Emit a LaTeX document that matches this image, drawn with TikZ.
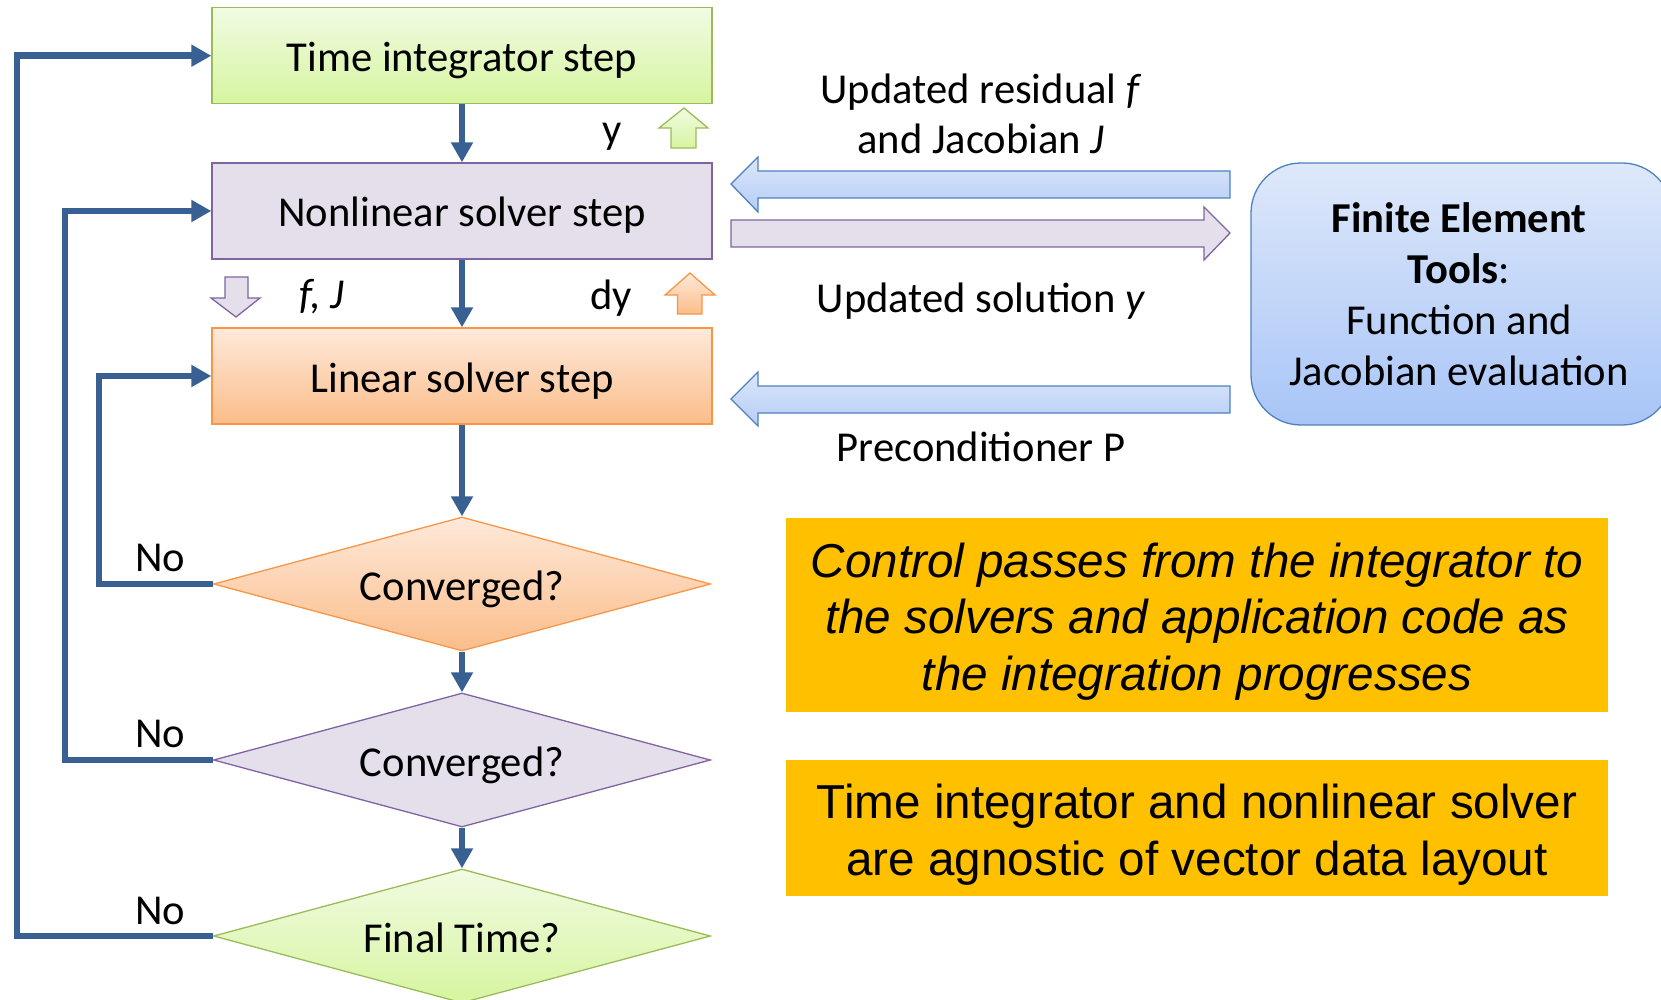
\documentclass[tikz,border=0pt]{standalone}
\usepackage{fontspec}
\setmainfont{Carlito}
\newfontfamily\arialf{Liberation Sans}
\usetikzlibrary{arrows.meta,shapes.geometric}
\definecolor{flowc}{HTML}{386092}
\definecolor{grnB}{HTML}{9BBB59}
\definecolor{grnT}{HTML}{F1FBE2}
\definecolor{grnBot}{HTML}{D6F5A0}
\definecolor{purF}{HTML}{E5DFEC}
\definecolor{purB}{HTML}{8064A2}
\definecolor{orgT}{HTML}{FEE9DA}
\definecolor{orgBot}{HTML}{FBBD8A}
\definecolor{orgB}{HTML}{F79646}
\definecolor{bluT}{HTML}{DEE8FA}
\definecolor{bluBot}{HTML}{A8C5F7}
\definecolor{bluAT}{HTML}{DCE6F9}
\definecolor{bluABot}{HTML}{B5CDF8}
\definecolor{bluB}{HTML}{4F81BD}
\definecolor{yel}{HTML}{FFC000}
\begin{document}
\begin{tikzpicture}[x=1pt,y=-1pt,
  every node/.style={font=\fontsize{42.6}{51}\selectfont, inner sep=0pt},
  boxtext/.style={text height=37pt, text depth=5pt},
  stepbox/.style={rectangle, draw, line width=1.3pt, minimum width=500pt, minimum height=96pt, boxtext},
  decide/.style={diamond, draw, line width=1.3pt, shape aspect=3.7, minimum width=497pt, minimum height=134pt, boxtext},
  flow/.style={draw=flowc, line width=6.5pt, -{Triangle[length=20pt,width=21pt]}},
  blockar/.style={line width=1.3pt, line join=miter},
  note/.style={fill=yel, minimum width=822pt},
  notetext/.style={align=center, font=\arialf\fontsize{47.6}{56.7}\selectfont}
]
\useasboundingbox (0,0) rectangle (1661,1000);

% flow nodes
\node[stepbox, draw=grnB, top color=grnT, bottom color=grnBot] (ti) at (462,55.7) {Time integrator step};
\node[stepbox, draw=purB, fill=purF] (nl) at (462,211) {Nonlinear solver step};
\node[stepbox, draw=orgB, top color=orgT, bottom color=orgBot] (ls) at (462,376) {Linear solver step};
\node[decide, draw=orgB, top color=orgT, bottom color=orgBot] (d1) at (462,584) {Converged?};
\node[decide, draw=purB, fill=purF] (d2) at (462,760) {Converged?};
\node[decide, draw=grnB, top color=grnT, bottom color=grnBot] (d3) at (462,936) {Final Time?};

% flow connectors
\draw[flow] (ti) -- (nl);
\draw[flow] (nl) -- (ls);
\draw[flow] (ls) -- (d1);
\draw[flow] (d1) -- (d2);
\draw[flow] (d2) -- (d3);
\draw[flow] (d1.west) -- ++(-114,0) |- (ls.west);
\draw[flow] (d2.west) -- ++(-148,0) |- (nl.west);
\draw[flow] (d3.west) -- ++(-196,0) |- (ti.west);

\node (no1) at (160,558) {No};
\node (no2) at (160,734) {No};
\node (no3) at (160,911) {No};

% small block arrows
\shade[blockar, draw=grnB, top color=grnT, bottom color=grnBot]
  (684,108) -- (708,128) -- (696,128) -- (696,148) -- (671,148) -- (671,128) -- (659,128) -- cycle;
\path[blockar, draw=purB, fill=purF]
  (236,317) -- (260,298) -- (248,298) -- (248,277) -- (225,277) -- (225,298) -- (211,298) -- cycle;
\shade[blockar, draw=orgB, top color=orgT, bottom color=orgBot]
  (690,273) -- (715,295) -- (702,295) -- (702,314) -- (677.5,314) -- (677.5,295) -- (665,295) -- cycle;

\node (ylab) at (612,137) {y};
\node (fjlab) at (322,297) {\textit{f, J}};
\node (dylab) at (611,298) {dy};

% Finite element tools box
\node[rectangle, rounded corners=50pt, draw=bluB, line width=1.3pt, top color=bluT, bottom color=bluBot,
      minimum width=421pt, minimum height=262pt] (fe) at (1461.5,294) {};
\node[align=center] (fetext) at (1459,294) {\textbf{Finite Element}\\\textbf{Tools}:\\Function and\\Jacobian evaluation};

% large block arrows
\shade[blockar, draw=bluB, top color=bluAT, bottom color=bluABot]
  (1230,171) -- (758,171) -- (758,157) -- (731,184) -- (758,212) -- (758,198) -- (1230,198) -- cycle;
\path[blockar, draw=purB, fill=purF]
  (731,220) -- (1204,220) -- (1204,207) -- (1230,233) -- (1204,260) -- (1204,247) -- (731,247) -- cycle;
\shade[blockar, draw=bluB, top color=bluAT, bottom color=bluABot]
  (1230,386) -- (758,386) -- (758,372) -- (731,399) -- (758,426) -- (758,413) -- (1230,413) -- cycle;

\node[align=center, font=\fontsize{42.6}{50}\selectfont] (lab1) at (981,114) {Updated residual \textit{f}\\and Jacobian \textit{J}};
\node (lab2) at (981,301) {Updated solution \textit{y}};
\node (lab3) at (981,447) {Preconditioner P};

% notes
\node[note, minimum height=194pt] (n1) at (1197,615) {};
\node[notetext] (n1text) at (1197,621.5) {\itshape Control passes from the integrator to\\\itshape the solvers and application code as\\\itshape the integration progresses};
\node[note, minimum height=136pt] (n2) at (1197,828) {};
\node[notetext] (n2text) at (1197,834.5) {Time integrator and nonlinear solver\\are agnostic of vector data layout};
\end{tikzpicture}
\end{document}
